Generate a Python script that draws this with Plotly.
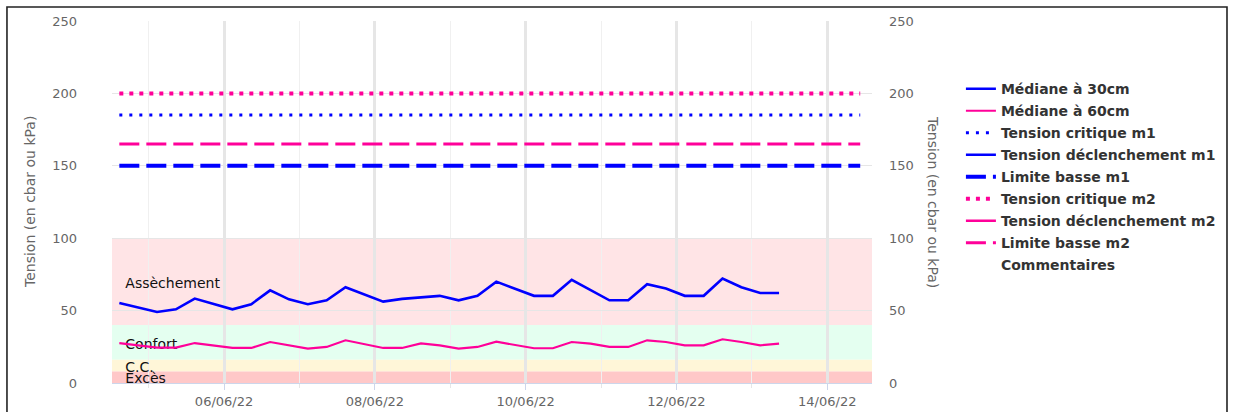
import plotly.graph_objects as go

# ---------------- data ----------------
times = [
    "2022-06-04 14:40", "2022-06-04 20:40", "2022-06-05 02:40", "2022-06-05 08:40",
    "2022-06-05 14:40", "2022-06-05 20:40", "2022-06-06 02:40", "2022-06-06 08:40",
    "2022-06-06 14:40", "2022-06-06 20:40", "2022-06-07 02:40", "2022-06-07 08:40",
    "2022-06-07 14:40", "2022-06-07 20:40", "2022-06-08 02:40", "2022-06-08 08:40",
    "2022-06-08 14:40", "2022-06-08 20:40", "2022-06-09 02:40", "2022-06-09 08:40",
    "2022-06-09 14:40", "2022-06-09 20:40", "2022-06-10 02:40", "2022-06-10 08:40",
    "2022-06-10 14:40", "2022-06-10 20:40", "2022-06-11 02:40", "2022-06-11 08:40",
    "2022-06-11 14:40", "2022-06-11 20:40", "2022-06-12 02:40", "2022-06-12 08:40",
    "2022-06-12 14:40", "2022-06-12 20:40", "2022-06-13 02:40", "2022-06-13 08:40",
]
median_30cm = [
    55.2, None, 49.0, 50.9, 58.3, None, 50.9, 54.4, 64.0, 57.8, 54.4, 57.1,
    66.1, None, 56.2, 58.1, 59.4, 60.2, 57.1, 60.2, 70.0, None, 60.2, 60.2,
    71.3, None, 57.1, 57.1, 68.2, 65.2, 60.2, 60.2, 72.1, 66.1, 62.2, 62.2,
]
median_60cm = [
    27.6, None, 24.4, 24.4, 27.6, None, 24.2, 24.2, 28.3, 26.0, 23.8, 24.9,
    29.5, None, 24.2, 24.2, 27.4, 26.0, 23.8, 24.9, 28.5, 26.0, 24.0, 24.0,
    28.3, 27.2, 24.9, 24.9, 29.5, 28.3, 26.0, 26.0, 30.2, 28.3, 26.0, 27.2,
]

threshold_span = ["2022-06-04 14:40", "2022-06-14 10:30"]
tension_critique_m1 = 185
limite_basse_m1 = 150
tension_critique_m2 = 200
limite_basse_m2 = 165

zone_names = ["Assèchement", "Confort", "C.C.", "Excès"]
zone_low = [40, 16, 8, 0]
zone_high = [100, 40, 16, 8]
zone_colors = ["#FFE4E6", "#E4FFF0", "#FFF6D8", "#FFC8C8"]

x_range = ["2022-06-04 12:20", "2022-06-14 14:15"]
y_ticks = [0, 50, 100, 150, 200, 250]
axis_title = "Tension (en cbar ou kPa)"

# ---------------- style ----------------
BLUE = "#0000FF"
PINK = "#FF0099"
FONT = "DejaVu Sans"
LABEL_DY = -1.8  # small downward nudge of zone labels (in axis units)

fig = go.Figure()

# zone labels (drawn first so the data lines pass over them)
fig.add_trace(go.Scatter(
    x=[times[0]] * len(zone_names),
    y=[(lo + hi) / 2 + LABEL_DY for lo, hi in zip(zone_low, zone_high)],
    text=zone_names, mode="markers+text", textposition="middle right",
    marker=dict(size=8, opacity=0),
    textfont=dict(family=FONT, size=14, color="#111111"),
    showlegend=False, hoverinfo="skip", cliponaxis=True,
))


def add(name, x, y, color, width, dash="solid"):
    fig.add_trace(go.Scatter(
        x=x, y=y, name=name, mode="lines", connectgaps=True,
        line=dict(color=color, width=width, dash=dash),
        legendgroup=name,
    ))


add("Médiane à 30cm", times, median_30cm, BLUE, 2.6)
add("Médiane à 60cm", times, median_60cm, PINK, 2.2)
add("Tension critique m1", threshold_span, [tension_critique_m1] * 2, BLUE, 3, "3px,7px")
add("Tension déclenchement m1", [threshold_span[0]], [None], BLUE, 2.5)
add("Limite basse m1", threshold_span, [limite_basse_m1] * 2, BLUE, 4, "20px,7px")
add("Tension critique m2", threshold_span, [tension_critique_m2] * 2, PINK, 4, "4px,6px")
add("Tension déclenchement m2", [threshold_span[0]], [None], PINK, 2.5)
add("Limite basse m2", threshold_span, [limite_basse_m2] * 2, PINK, 3, "20px,7px")
add("Commentaires", [threshold_span[0]], [None], "rgba(0,0,0,0)", 0)

# invisible trace to activate the right axis
fig.add_trace(go.Scatter(x=[threshold_span[0]], y=[None], yaxis="y2",
                         showlegend=False, hoverinfo="skip"))

shapes = []
for lo, hi, col in zip(zone_low, zone_high, zone_colors):
    shapes.append(dict(type="rect", xref="paper", yref="y", x0=0, x1=1, y0=lo, y1=hi,
                       fillcolor=col, line=dict(width=0), layer="below"))
# outer frame
shapes.append(dict(type="rect", xref="paper", yref="paper",
                   x0=-0.1382, x1=1.4671, y0=-0.12, y1=1.0387,
                   line=dict(color="#222222", width=1.6), layer="above"))

fig.update_layout(
    width=1236, height=412,
    margin=dict(l=112, r=364, t=21, b=29),
    paper_bgcolor="white", plot_bgcolor="white",
    font=dict(family=FONT, size=13, color="#666666"),
    shapes=shapes,
    showlegend=True,
    legend=dict(
        x=1.117, xanchor="left", y=0.856, yanchor="top",
        font=dict(family=FONT, size=14, color="#333333", weight="bold"),
        tracegroupgap=0.8, bgcolor="rgba(0,0,0,0)",
    ),
    xaxis=dict(
        type="date", range=x_range, automargin=False,
        tick0="2022-06-06", dtick=2 * 86400000, tickformat="%d/%m/%y",
        showgrid=True, gridcolor="#E6E6E6", gridwidth=3,
        ticks="outside", ticklen=6, tickcolor="#CCD6EB",
        showline=True, linecolor="#CCD6EB", linewidth=1,
        ticklabelstandoff=0,
        tickfont=dict(family=FONT, size=13, color="#666666"),
        minor=dict(dtick=86400000, tick0="2022-06-05", showgrid=True,
                   gridcolor="#F0F0F0", gridwidth=1,
                   ticks="outside", ticklen=4, tickcolor="#E6E6E6"),
        zeroline=False,
    ),
    yaxis=dict(
        range=[0, 250], tickvals=y_ticks, showgrid=True, gridcolor="#E6E6E6",
        gridwidth=1, zeroline=False, ticks="", ticklabelstandoff=34,
        automargin=False,
        tickfont=dict(family=FONT, size=13, color="#666666"),
    ),
    yaxis2=dict(
        range=[0, 250], tickvals=y_ticks, overlaying="y", side="right",
        showgrid=False, zeroline=False, ticks="", ticklabelstandoff=16,
        automargin=False,
        tickfont=dict(family=FONT, size=13, color="#666666"),
    ),
    annotations=[
        dict(text=axis_title, xref="paper", yref="paper", x=-0.1079, y=0.5,
             xanchor="center", yanchor="middle", textangle=-90, showarrow=False,
             font=dict(family=FONT, size=14, color="#666666")),
        dict(text=axis_title, xref="paper", yref="paper", x=1.0803, y=0.5,
             xanchor="center", yanchor="middle", textangle=90, showarrow=False,
             font=dict(family=FONT, size=14, color="#666666")),
    ],
)

# remove the browser's default 8px body margin so the figure sits at the page origin
fig.write_html("out.html", config={"displayModeBar": False},
               post_script="document.body.style.margin='0';")
